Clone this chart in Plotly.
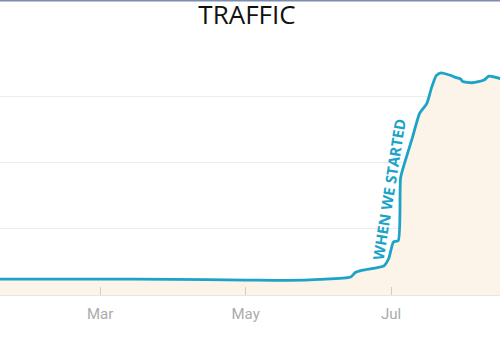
import plotly.graph_objects as go

dates = ["2015-01-18", "2015-03-01", "2015-03-31", "2015-05-01", "2015-05-19", "2015-06-01",
         "2015-06-14", "2015-06-16", "2015-06-19", "2015-06-28", "2015-06-30", "2015-07-02",
         "2015-07-04", "2015-07-05", "2015-07-07", "2015-07-10", "2015-07-13", "2015-07-16",
         "2015-07-18", "2015-07-20", "2015-07-22", "2015-07-26", "2015-07-28", "2015-07-30",
         "2015-07-31", "2015-08-04", "2015-08-09", "2015-08-11", "2015-08-16"]
traffic = [0.24, 0.24, 0.235, 0.225, 0.22, 0.235,
           0.27, 0.34, 0.375, 0.44, 0.55, 0.80,
           0.82, 1.77, 2.03, 2.38, 2.74, 2.89,
           3.13, 3.31, 3.35, 3.31, 3.28, 3.26,
           3.22, 3.20, 3.24, 3.30, 3.26]
tick_vals = ["2015-03-01", "2015-05-01", "2015-07-01"]
tick_text = ["Mar", "May", "Jul"]
title_text = "TRAFFIC"
note_text = "WHEN WE STARTED"
note_date = "2015-06-30"
note_value = 1.6

fig = go.Figure()
fig.add_trace(go.Scatter(
    x=dates, y=traffic, mode="lines",
    line=dict(color="#1ba3c8", width=2.8, shape="spline", smoothing=0.6),
    fill="tozeroy", fillcolor="#fcf3e9", hoverinfo="skip"))

fig.add_annotation(x=note_date, y=note_value, text="<b>" + note_text + "</b>",
                   showarrow=False, textangle=-81,
                   font=dict(family="Open Sans", size=15, color="#1ba3c8"))

fig.add_shape(type="line", xref="paper", yref="paper", x0=0, x1=1, y0=1.107, y1=1.107,
              line=dict(color="#7a8db0", width=2))

fig.update_layout(
    width=500, height=350, margin=dict(l=0, r=0, t=29, b=55),
    paper_bgcolor="white", plot_bgcolor="white", showlegend=False,
    title=dict(text=title_text, x=0.494, xanchor="center", y=0.958, yanchor="middle",
               font=dict(family="Open Sans", size=26, color="#111111")),
    xaxis=dict(range=["2015-01-18", "2015-08-15 16:00"], tickvals=tick_vals, ticktext=tick_text,
               showgrid=False, ticks="inside", ticklen=8, tickcolor="#d0ccc6", tickwidth=1,
               showline=True, linecolor="#ebe5dd", linewidth=1, ticklabelstandoff=5,
               tickfont=dict(family="Roboto", size=15, color="#ababab")),
    yaxis=dict(range=[0, 4.01], tickvals=[1, 2, 3, 4], showticklabels=False,
               showgrid=True, gridcolor="#ececec", gridwidth=1, zeroline=False),
)
fig.write_html("out.html")
